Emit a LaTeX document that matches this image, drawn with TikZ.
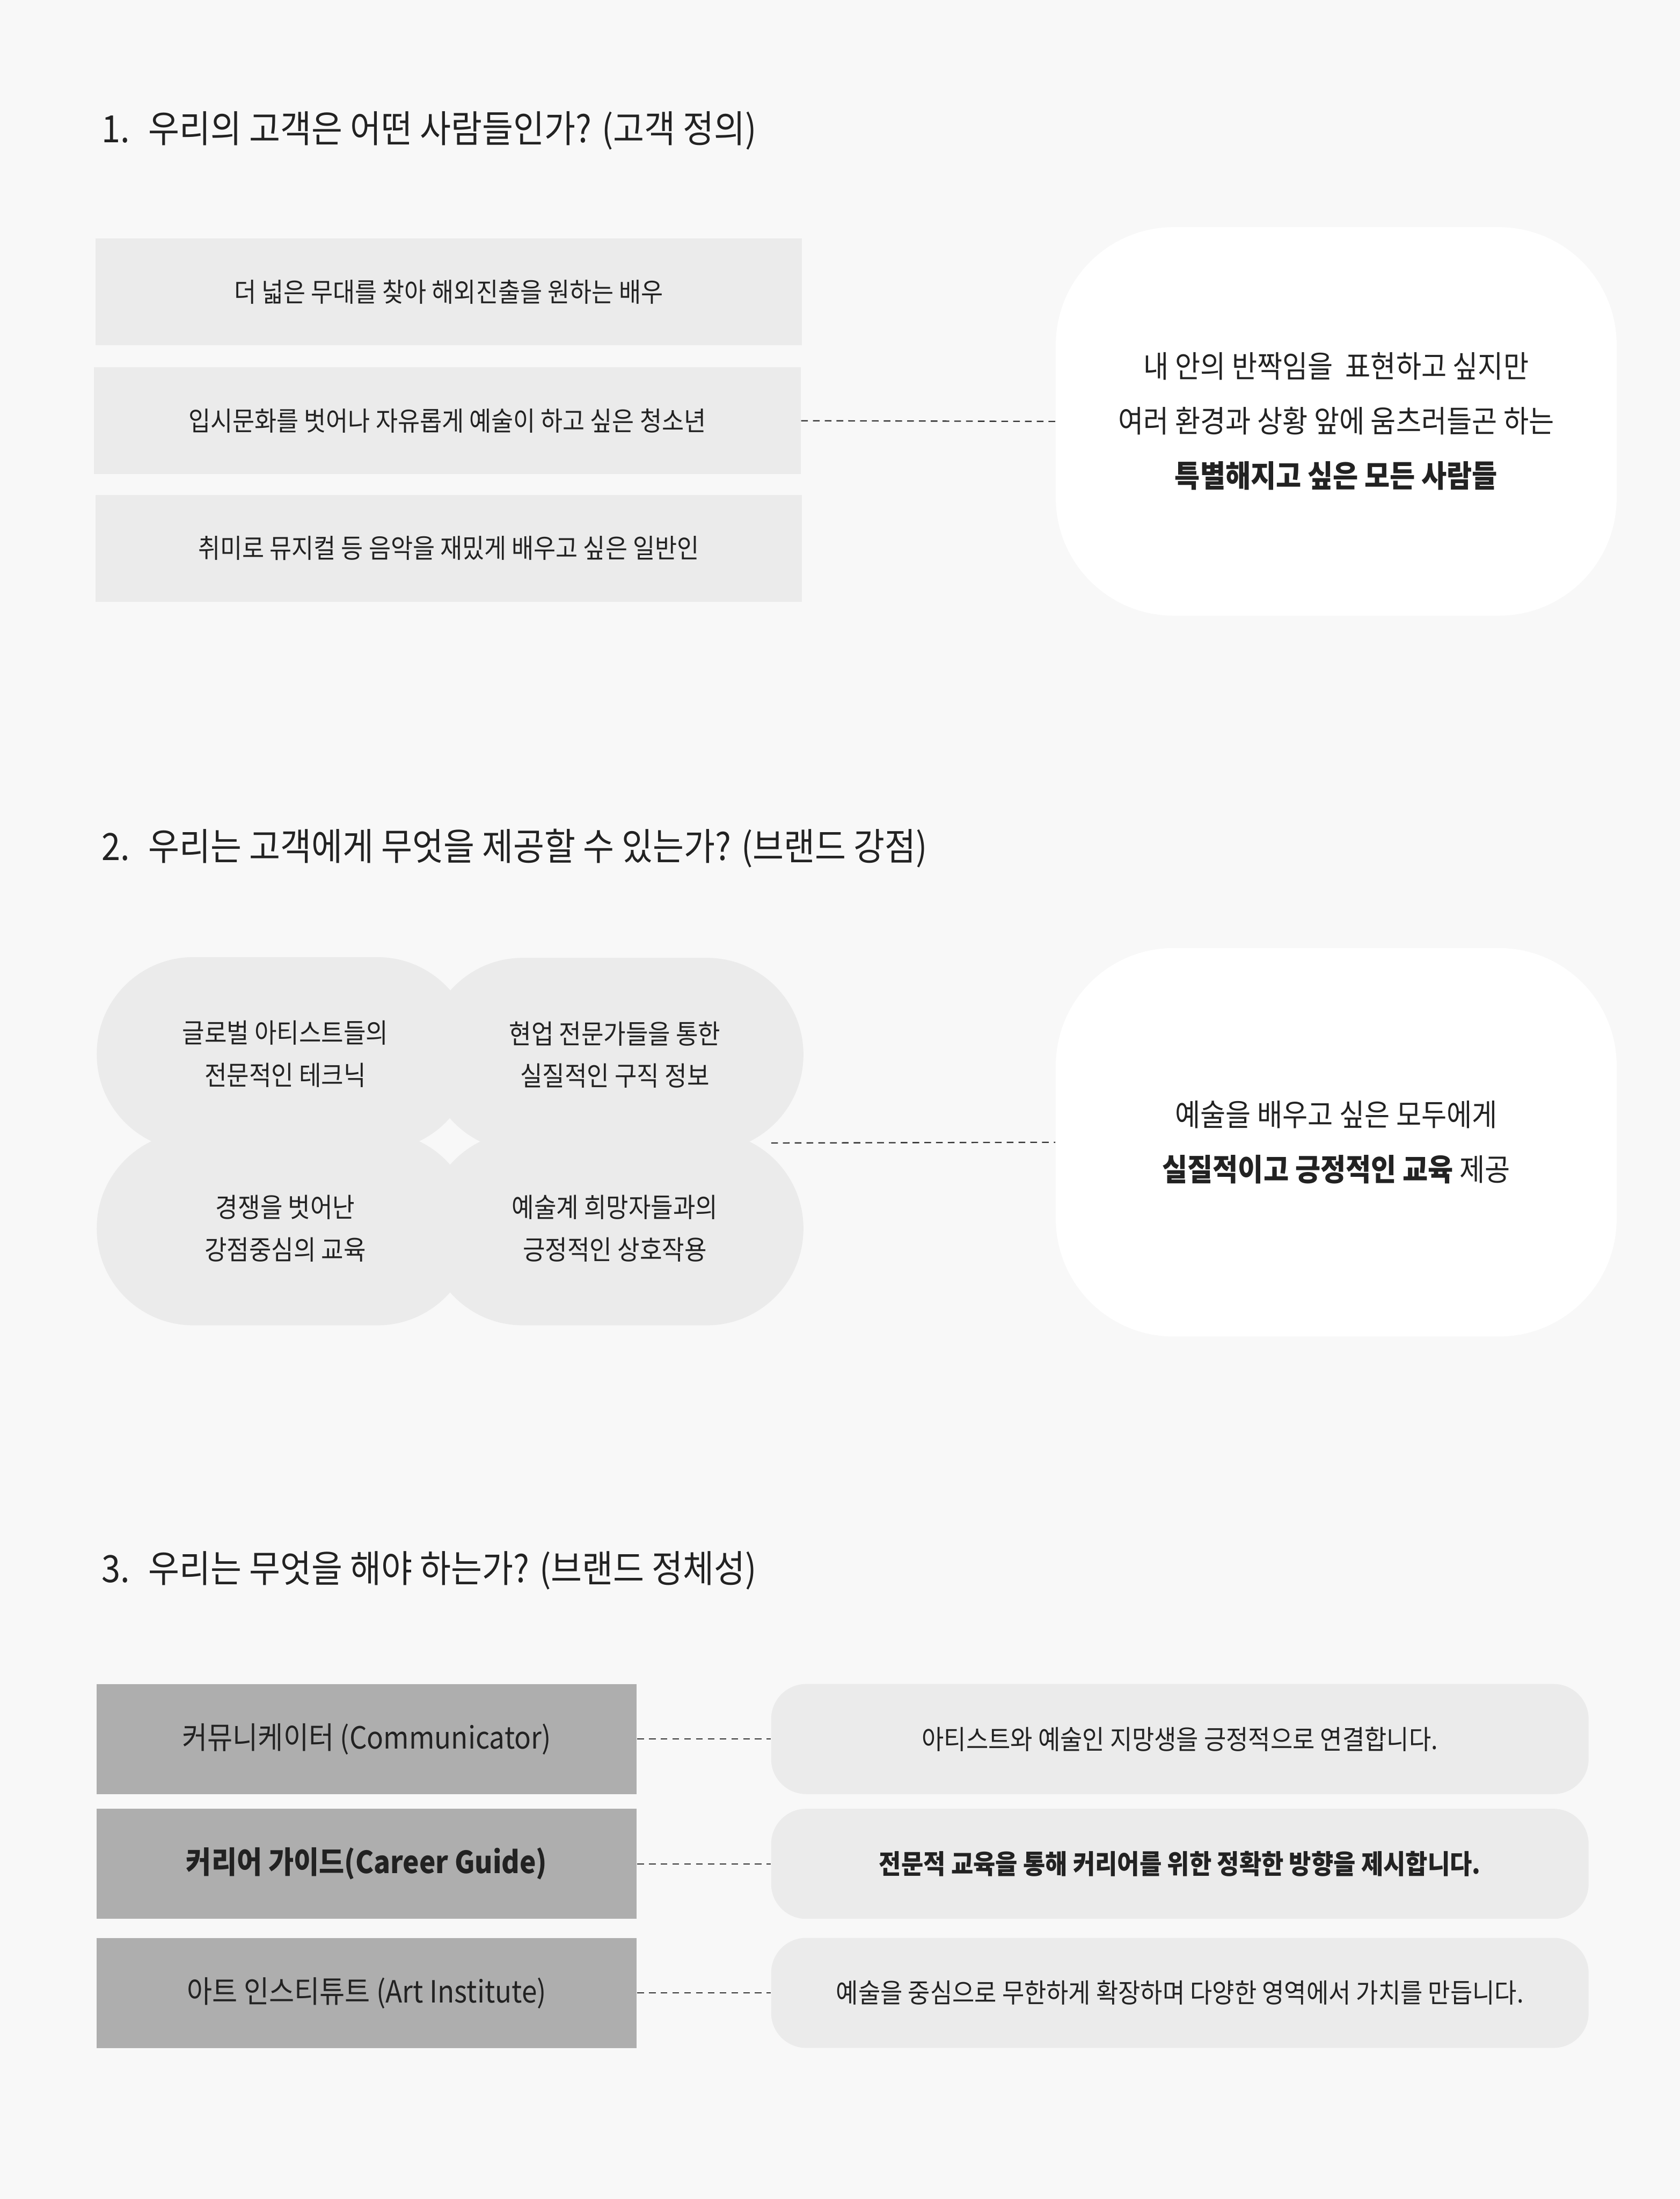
\documentclass[tikz,border=0pt]{standalone}
\usepackage{fontspec}
\setmainfont{Noto Sans CJK KR}[FakeStretch=0.9]

\definecolor{paper}{HTML}{F8F8F8}
\definecolor{boxgrey}{HTML}{EBEBEB}
\definecolor{rolegrey}{HTML}{AEAEAE}
\definecolor{ink}{HTML}{222222}

\tikzset{
	heading/.style={anchor=west, inner sep=0pt, text=ink, font=\fontsize{13.4pt}{16pt}\selectfont},
	wishbox/.style={fill=boxgrey, minimum width=252pt, minimum height=38pt, inner sep=0pt, text=ink, font=\fontsize{9.5pt}{11pt}\selectfont},
	cloud/.style={fill=white, rounded corners=42pt, minimum width=200pt, minimum height=138.5pt, inner sep=0pt, align=center, text=ink, font=\fontsize{10.9pt}{19.5pt}\selectfont},
	blob/.style={fill=boxgrey, rounded corners=34.4pt, minimum width=134.5pt, minimum height=69pt, inner sep=0pt, align=center, text=ink, font=\fontsize{9.6pt}{15pt}\selectfont},
	role/.style={fill=rolegrey, minimum width=192.5pt, minimum height=39.25pt, inner sep=0pt, text=ink, font=\fontsize{10.9pt}{12pt}\selectfont},
	pill/.style={fill=boxgrey, rounded corners=12.5pt, minimum width=291.5pt, minimum height=39.25pt, inner sep=0pt, text=ink, font=\fontsize{9.55pt}{11pt}\selectfont},
	link/.style={draw=black!80, line width=0.45pt, dash pattern=on 2.4pt off 1.8pt}
}

\begin{document}
\begin{tikzpicture}[x=0.5pt,y=0.5pt,yscale=-1,xscale=1]
	%Shape: Rectangle (page)
	\fill[paper] (0,0) rectangle (1198,1568);
	\useasboundingbox (0,0) rectangle (1198,1568);

	% Text Node
	\node[heading] (head1) at (72,93) {1.\enskip 우리의 고객은 어떤 사람들인가? (고객 정의)};

	%Shape: Rectangle
	\node[wishbox] (actor) at (320,208) {더 넓은 무대를 찾아 해외진출을 원하는 배우};
	%Shape: Rectangle
	\node[wishbox] (teen) at (319,300) {입시문화를 벗어나 자유롭게 예술이 하고 싶은 청소년};
	%Shape: Rectangle
	\node[wishbox] (hobby) at (320,391) {취미로 뮤지컬 등 음악을 재밌게 배우고 싶은 일반인};

	%Shape: Rounded Rect
	\node[cloud] (everyone) at (953,300.5) {내 안의 반짝임을\ \ 표현하고 싶지만\\여러 환경과 상황 앞에 움츠러들곤 하는\\\textbf{특별해지고 싶은 모든 사람들}};

	%Straight Lines
	\draw[link] (teen.east) -- (everyone.west);

	% Text Node
	\node[heading] (head2) at (72,605) {2.\enskip 우리는 고객에게 무엇을 제공할 수 있는가? (브랜드 강점)};

	%Shape: Stadium
	\node[blob] (global) at (203.5,751.5) {글로벌 아티스트들의\\전문적인 테크닉};
	%Shape: Stadium
	\node[blob] (expert) at (438.5,752) {현업 전문가들을 통한\\실질적인 구직 정보};
	%Shape: Stadium
	\node[blob] (nocomp) at (203.5,876) {경쟁을 벗어난\\강점중심의 교육};
	%Shape: Stadium
	\node[blob] (peers) at (438.5,876) {예술계 희망자들과의\\긍정적인 상호작용};

	%Shape: Rounded Rect
	\node[cloud] (offer) at (953,814.5) {예술을 배우고 싶은 모두에게\\\textbf{실질적이고 긍정적인 교육} 제공};

	%Straight Lines
	\coordinate (strengths) at (550,815);
	\draw[link] (strengths) -- (offer.west);

	% Text Node
	\node[heading] (head3) at (72,1120) {3.\enskip 우리는 무엇을 해야 하는가? (브랜드 정체성)};

	%Shape: Rectangle
	\node[role] (comm) at (261.5,1240) {커뮤니케이터 (Communicator)};
	%Shape: Rectangle
	\node[role] (career) at (261.5,1329) {\textbf{커리어 가이드(Career Guide)}};
	%Shape: Rectangle
	\node[role] (inst) at (261.5,1421) {아트 인스티튜트 (Art Institute)};

	%Shape: Rounded Rect
	\node[pill] (connect) at (841.5,1240) {아티스트와 예술인 지망생을 긍정적으로 연결합니다.};
	%Shape: Rounded Rect
	\node[pill] (direct) at (841.5,1329) {\textbf{전문적 교육을 통해 커리어를 위한 정확한 방향을 제시합니다.}};
	%Shape: Rounded Rect
	\node[pill] (expand) at (841.5,1421) {예술을 중심으로 무한하게 확장하며 다양한 영역에서 가치를 만듭니다.};

	%Straight Lines
	\draw[link] (comm.east) -- (connect.west);
	\draw[link] (career.east) -- (direct.west);
	\draw[link] (inst.east) -- (expand.west);

\end{tikzpicture}
\end{document}
